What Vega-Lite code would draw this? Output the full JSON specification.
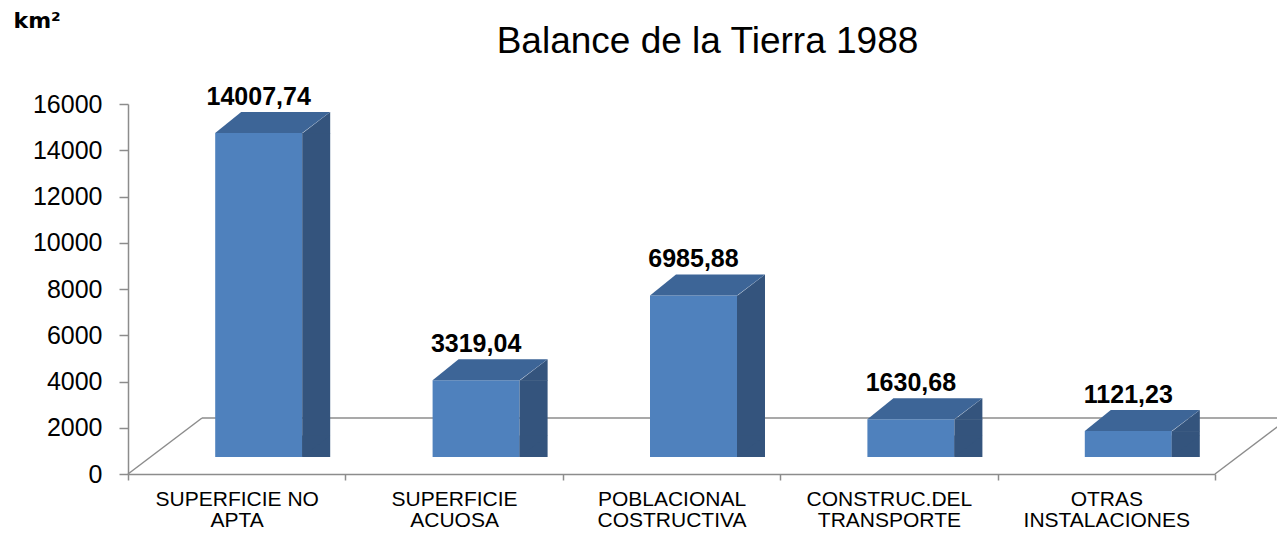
{
  "$schema": "https://vega.github.io/schema/vega-lite/v6.json",
  "width": 1087,
  "height": 370,
  "autosize": {"type": "none"},
  "padding": {"left": 128, "top": 104, "right": 62, "bottom": 61},
  "background": "white",
  "title": {"text": "Balance de la Tierra 1988", "font": "Liberation Sans", "fontSize": 37, "fontWeight": "normal", "color": "#000000", "anchor": "middle", "frame": "group", "dx": 36, "dy": 56},
  "config": {
    "view": {"stroke": null},
    "font": "Liberation Sans",
    "locale": {"number": {"decimal": ",", "thousands": "", "grouping": [3], "currency": ["", ""]}}
  },
  "data": {"values": [
    {"cat": "SUPERFICIE NO APTA", "value": 14007.74},
    {"cat": "SUPERFICIE ACUOSA", "value": 3319.04},
    {"cat": "POBLACIONAL COSTRUCTIVA", "value": 6985.88},
    {"cat": "CONSTRUC.DEL TRANSPORTE", "value": 1630.68},
    {"cat": "OTRAS INSTALACIONES", "value": 1121.23}
  ]},
  "resolve": {"scale": {"x": "independent"}},
  "layer": [
    {
      "data": {"values": [{}]},
      "mark": {"type": "rule", "color": "#8C8C8C", "strokeWidth": 1.5, "x2Offset": 74, "y2Offset": -56},
      "encoding": {
        "x": {"datum": 0, "type": "quantitative", "scale": {"domain": [0, 1]}, "axis": null},
        "x2": {"datum": 0},
        "y": {"datum": 0, "type": "quantitative"},
        "y2": {"datum": 0}
      }
    },
    {
      "data": {"values": [{}]},
      "mark": {"type": "rule", "color": "#8C8C8C", "strokeWidth": 1.5, "xOffset": 74, "x2Offset": 74, "yOffset": -56, "y2Offset": -56},
      "encoding": {
        "x": {"datum": 0, "type": "quantitative", "scale": {"domain": [0, 1]}, "axis": null},
        "x2": {"datum": 1},
        "y": {"datum": 0, "type": "quantitative"},
        "y2": {"datum": 0}
      }
    },
    {
      "data": {"values": [{}]},
      "mark": {"type": "rule", "color": "#8C8C8C", "strokeWidth": 1.5, "x2Offset": 74, "y2Offset": -56},
      "encoding": {
        "x": {"datum": 1, "type": "quantitative", "scale": {"domain": [0, 1]}, "axis": null},
        "x2": {"datum": 1},
        "y": {"datum": 0, "type": "quantitative"},
        "y2": {"datum": 0}
      }
    },
    {
      "mark": {"type": "bar", "width": 87, "xOffset": 22, "yOffset": -17, "y2Offset": -17, "color": "#4F81BD"},
      "encoding": {
        "x": {"field": "cat", "type": "nominal", "sort": null, "scale": {"paddingInner": 0, "paddingOuter": 0},
          "axis": {"title": null, "domainColor": "#8C8C8C", "domainWidth": 1.5, "tickBand": "extent", "tickColor": "#8C8C8C", "tickWidth": 1.5, "tickSize": 6,
            "labelFont": "Liberation Sans", "labelFontSize": 21, "labelColor": "#000000", "labelAngle": 0, "labelPadding": 8, "labelLineHeight": 21, "labelOverlap": false, "labelLimit": 300,
            "labelExpr": "[slice(datum.label, 0, lastindexof(datum.label, ' ')), slice(datum.label, lastindexof(datum.label, ' ') + 1)]"}},
        "y": {"field": "value", "type": "quantitative", "scale": {"domain": [0, 16000]},
          "axis": {"title": "km²", "titleAngle": 0, "titleAlign": "left", "titleBaseline": "alphabetic", "titleX": -115, "titleY": -77,
            "titleFont": "DejaVu Sans", "titleFontSize": 22, "titleFontWeight": "bold", "titleColor": "#000000",
            "values": [0, 2000, 4000, 6000, 8000, 10000, 12000, 14000, 16000], "format": "d", "grid": false,
            "labelFont": "Liberation Sans", "labelFontSize": 25, "labelColor": "#000000", "labelPadding": 17,
            "tickSize": 9, "tickColor": "#8C8C8C", "tickWidth": 1.5, "domainColor": "#8C8C8C", "domainWidth": 1.5}}
      }
    },
    {
      "mark": {"type": "bar", "width": 28, "xOffset": 79.5, "yOffset": -17, "y2Offset": -38, "color": "#34547D"},
      "encoding": {
        "x": {"field": "cat", "type": "nominal", "sort": null, "scale": {"paddingInner": 0, "paddingOuter": 0}, "axis": null},
        "y": {"field": "value", "type": "quantitative"}
      }
    },
    {
      "mark": {"type": "point", "shape": "M43.5,0.5L71.5,-21L71.5,0.5Z", "size": 4, "filled": true, "opacity": 1, "strokeWidth": 0, "color": "#34547D", "xOffset": 22, "yOffset": -17},
      "encoding": {
        "x": {"field": "cat", "type": "nominal", "sort": null, "scale": {"paddingInner": 0, "paddingOuter": 0}, "axis": null},
        "y": {"field": "value", "type": "quantitative"}
      }
    },
    {
      "mark": {"type": "point", "shape": "M65.5,-17L65.5,-38.5L93.5,-38.5Z", "size": 4, "filled": true, "opacity": 1, "strokeWidth": 0, "color": "#34547D"},
      "encoding": {
        "x": {"field": "cat", "type": "nominal", "sort": null, "scale": {"paddingInner": 0, "paddingOuter": 0}, "axis": null},
        "y": {"datum": 0, "type": "quantitative"}
      }
    },
    {
      "mark": {"type": "point", "shape": "M-43.5,0L43.5,0L71.5,-21L-17.5,-21Z", "size": 4, "filled": true, "opacity": 1, "strokeWidth": 0, "color": "#3D6597", "xOffset": 22, "yOffset": -17},
      "encoding": {
        "x": {"field": "cat", "type": "nominal", "sort": null, "scale": {"paddingInner": 0, "paddingOuter": 0}, "axis": null},
        "y": {"field": "value", "type": "quantitative"}
      }
    },
    {
      "mark": {"type": "text", "font": "Liberation Sans", "fontSize": 25, "fontWeight": "bold", "color": "#000000", "dx": 22, "dy": -45, "baseline": "alphabetic", "align": "center"},
      "encoding": {
        "x": {"field": "cat", "type": "nominal", "sort": null, "scale": {"paddingInner": 0, "paddingOuter": 0}, "axis": null},
        "y": {"field": "value", "type": "quantitative"},
        "text": {"field": "value", "type": "quantitative", "format": ".2f"}
      }
    }
  ]
}
